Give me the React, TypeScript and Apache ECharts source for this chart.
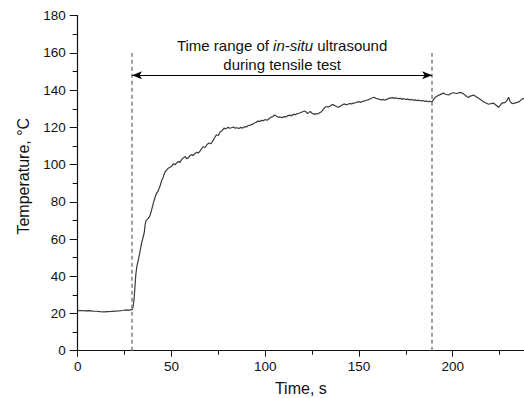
import React, { useEffect, useRef } from "react";
import * as echarts from "echarts";

// Time (s) and temperature (°C)
const timeS: number[] = [
  0, 2, 4, 6, 8, 10, 12, 14, 16, 18, 20, 22, 24, 26, 27, 28, 29, 29.5, 30, 30.5,
  31, 31.5, 32.3, 33, 34, 35, 35.5, 36, 36.5, 37.7, 38.5, 39.1, 40, 40.8, 42, 43,
  43.9, 44.8, 45.7, 46.5, 47.5, 48.5, 49.3, 50.2, 51, 52, 52.8, 53.7, 54.5, 55.5,
  56.3, 57.3, 58, 59, 59.8, 60.8, 61.5, 62.5, 63.5, 64.3, 65.3, 66, 67, 68, 69,
  70, 71, 72, 73, 74, 75, 76, 77, 78, 79, 80, 81, 82, 83, 84, 85, 86, 87, 88, 89,
  90, 91, 92, 93, 94, 95, 96, 97, 98, 99, 100, 101, 102, 103, 104, 105, 106, 107,
  108, 109, 110, 111, 112, 113, 114, 115, 116, 117, 118, 119, 120, 121, 121.8,
  122.5, 123, 124, 125, 126, 127, 128, 129, 130, 131, 132, 133, 134, 135, 136,
  137, 138, 139, 140, 141, 142, 143, 144, 145, 146, 147, 148, 149, 150, 151, 152,
  153, 154, 155, 156, 157, 158, 159, 160, 161, 162, 163, 164, 165, 166, 167, 168,
  169, 170, 171, 172, 173, 174, 175, 176, 177, 178, 179, 180, 181, 182, 183, 184,
  185, 186, 187, 188, 189, 189.5, 190.7, 192, 193.3, 194, 195.1, 196, 197.8, 199,
  200.4, 202, 204, 205.5, 206.7, 207.5, 208.4, 209.5, 211.1, 212.5, 213.8, 215,
  216.4, 217.5, 219.1, 220.5, 221.8, 223, 224.4, 225.3, 226.2, 227, 228, 229,
  229.8, 230.5, 231.6, 233, 234.3, 235.5, 236.9, 238,
];
const temperatureC: number[] = [
  21.5, 21.6, 21.4, 21.5, 21.3, 21.2, 21.0, 20.9, 21.0, 21.1, 21.3, 21.4, 21.6,
  21.9, 21.7, 21.9, 22.0, 23.5, 27, 34, 41, 45, 48.7, 52, 57.5, 61.5, 63.5, 68,
  70, 71.1, 72.5, 74.5, 78, 81, 84.5, 86, 88.5, 91.5, 93.5, 96, 97.2, 98.2, 98.6,
  99.2, 100.4, 100, 101, 101.6, 101.2, 102.8, 103.6, 104.4, 103.2, 103.6, 104.8,
  105.4, 104.8, 106, 106.6, 106.2, 107.4, 108.4, 109.6, 109.2, 110.8, 111.6,
  111.2, 112.6, 114.4, 116, 115.6, 117.6, 118.2, 119.6, 119.2, 120, 119.6, 119.8,
  120.2, 119.6, 119.8, 119.4, 120, 119.6, 120.4, 120.2, 121, 121.2, 121.6, 122.2,
  122.6, 123.4, 123.2, 123.8, 123.6, 124.2, 123.8, 124.6, 125.4, 125.8, 126.6,
  126, 125.4, 125.6, 125.2, 125.8, 125.6, 126.2, 126.6, 126.2, 127, 126.8, 127.4,
  127.6, 128, 128.4, 128.8, 128.2, 127.4, 127.8, 128.6, 127.6, 127, 127.4, 127.2,
  127.8, 128.4, 129.8, 130.8, 131.2, 131, 131.8, 132.2, 131.8, 131.2, 130.8,
  131.4, 132, 132.6, 132.2, 132.4, 132.8, 132.6, 133, 133.2, 133.6, 133.8, 133.4,
  134, 134.2, 134.6, 134.8, 135.4, 135.8, 136.2, 135.6, 135.4, 135, 134.8, 135,
  134.6, 135.2, 135.6, 135.8, 136, 135.6, 135.8, 135.4, 135.6, 135.2, 135.4, 135,
  135.2, 134.8, 135, 134.6, 134.8, 134.4, 134.6, 134.2, 134.4, 134, 134.2, 133.8,
  134, 133.6, 134.6, 136.2, 137, 137.6, 138, 138.4, 137.8, 137.4, 138.2, 138.6,
  138.2, 138.8, 138.2, 137.2, 136.6, 136, 136.8, 137.4, 136.4, 135.6, 134.8,
  133.8, 133.2, 132.4, 132.8, 133, 132, 130.8, 131.8, 133, 133.2, 133.4, 134.6,
  136.2, 134, 132.8, 133, 133.4, 133.8, 135.2, 135.6,
];

// Annotation values (data coordinates)
const rangeStart = 29;
const rangeEnd = 189;
const markerTop = 160;
const arrowLevel = 148;
const annotationLine1 = "Time range of {i|in-situ} ultrasound";
const annotationLine2 = "during tensile test";

const xMin = 0;
const xMax = 238;
const xInterval = 50;
const yMin = 0;
const yMax = 180;
const yInterval = 20;

const FONT = "'Liberation Sans', Arial, sans-serif";

export default function App() {
  const ref = useRef<HTMLDivElement>(null);

  useEffect(() => {
    if (!ref.current) return;
    const chart = echarts.init(ref.current, null, { renderer: "svg" });
    const seriesData = timeS.map((t, i) => [t, temperatureC[i]]);

    chart.setOption({
      animation: false,
      backgroundColor: "#ffffff",
      grid: {
        left: 77.7,
        right: 0,
        top: 15.7,
        bottom: 47.3,
        containLabel: false,
        outerBoundsMode: "none",
      },
      xAxis: {
        type: "value",
        min: xMin,
        max: xMax,
        interval: xInterval,
        name: "Time, s",
        nameLocation: "middle",
        nameGap: 30,
        nameTextStyle: { fontSize: 16, color: "#111", fontFamily: FONT },
        axisLine: { show: true, lineStyle: { color: "#111", width: 1.2 } },
        axisTick: { show: true, length: 6, lineStyle: { color: "#111", width: 1 } },
        minorTick: { show: true, splitNumber: 2, length: 4, lineStyle: { color: "#111", width: 1 } },
        splitLine: { show: false },
        axisLabel: {
          color: "#111",
          fontSize: 13.5,
          fontFamily: FONT,
          margin: 9,
          showMaxLabel: false,
          formatter: (v: number) => (v % xInterval === 0 ? String(v) : ""),
        },
      },
      yAxis: {
        type: "value",
        min: yMin,
        max: yMax,
        interval: yInterval,
        name: "Temperature, °C",
        nameLocation: "middle",
        nameGap: 46,
        nameTextStyle: { fontSize: 16, color: "#111", fontFamily: FONT, padding: [0, 0, 0, 14] },
        axisLine: { show: true, lineStyle: { color: "#111", width: 1.2 } },
        axisTick: { show: true, length: 8, lineStyle: { color: "#111", width: 1 } },
        minorTick: { show: true, splitNumber: 2, length: 5, lineStyle: { color: "#111", width: 1 } },
        splitLine: { show: false },
        axisLabel: { color: "#111", fontSize: 13.5, fontFamily: FONT, margin: 12 },
      },
      series: [
        {
          type: "line",
          data: seriesData,
          showSymbol: false,
          symbol: "none",
          lineStyle: { color: "#3a3a3a", width: 1.2 },
          z: 3,
        },
        {
          type: "line",
          data: [],
          markLine: {
            silent: true,
            symbol: "none",
            label: { show: false },
            lineStyle: { color: "#808080", type: [4, 3], width: 1.5 },
            data: [
              [{ coord: [rangeStart, yMin] }, { coord: [rangeStart, markerTop] }],
              [{ coord: [rangeEnd, yMin] }, { coord: [rangeEnd, markerTop] }],
            ],
          },
        },
        {
          type: "line",
          data: [],
          markLine: {
            silent: true,
            symbol: ["arrow", "arrow"],
            symbolSize: [6, 10],
            label: { show: false },
            lineStyle: { color: "#000", type: "solid", width: 1.2 },
            data: [[{ coord: [rangeStart, arrowLevel] }, { coord: [rangeEnd, arrowLevel] }]],
          },
        },
      ],
    });

    const p = chart.convertToPixel({ gridIndex: 0 }, [(rangeStart + rangeEnd) / 2, arrowLevel]) as number[];
    chart.setOption({
      graphic: [
        {
          type: "text",
          x: p[0],
          y: p[1] - 40,
          silent: true,
          style: {
            text: annotationLine1 + "\n" + annotationLine2,
            align: "center",
            verticalAlign: "top",
            fill: "#111",
            fontSize: 15,
            fontFamily: FONT,
            lineHeight: 19.5,
            rich: {
              i: { fontStyle: "italic", fontSize: 15, fontFamily: FONT, lineHeight: 19.5, fill: "#111" },
            },
          },
        },
      ],
    });

    return () => chart.dispose();
  }, []);

  return <div ref={ref} style={{ width: 524, height: 398, position: "absolute", left: 0, top: 0 }} />;
}
